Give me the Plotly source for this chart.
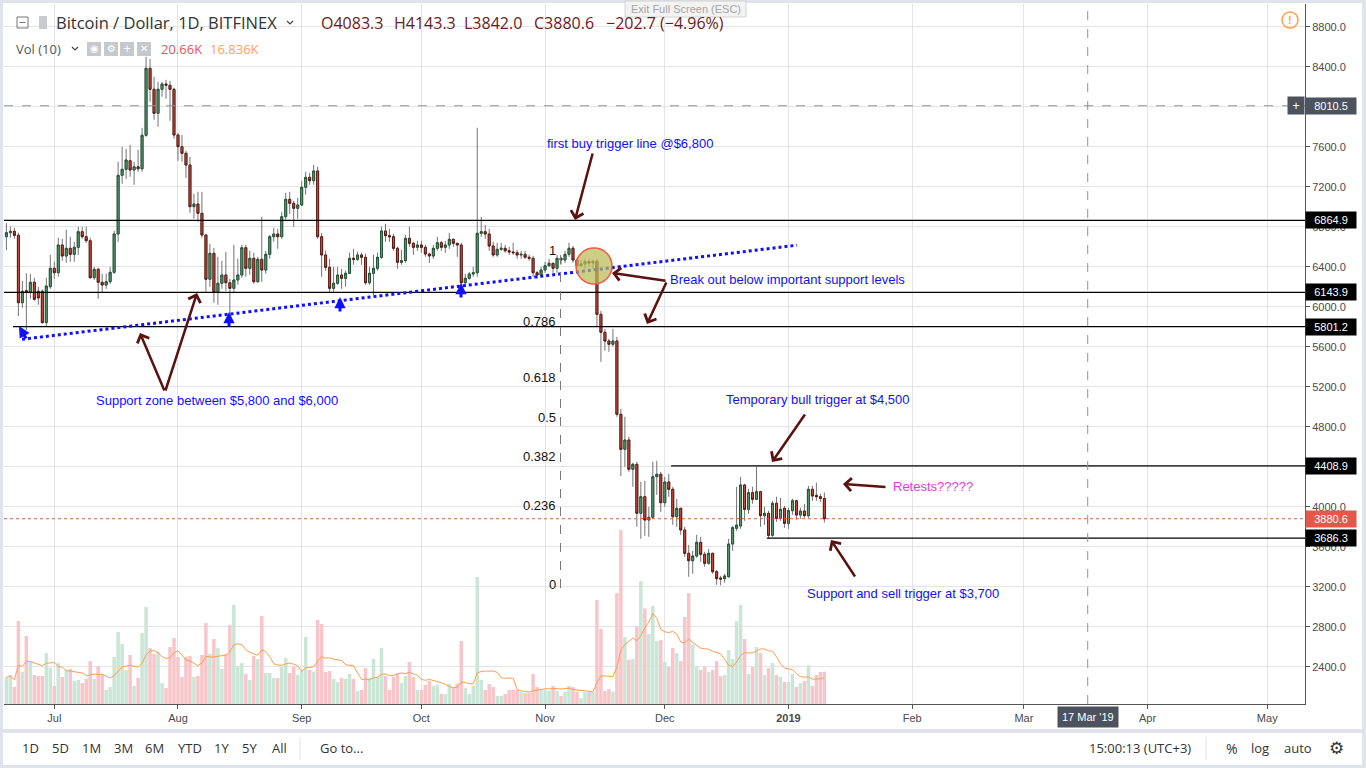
import pandas as pd
import plotly.graph_objects as go

# ---------------- DATA ----------------
start_date = "2018-06-19"
end_date = "2019-01-10"
dates = pd.date_range(start_date, end_date, freq="D")

open_ = [
    6701, 6741, 6755, 6715, 6041, 6161, 6148, 6245, 6155, 6155, 5842, 6201,
    6385, 6341, 6618, 6508, 6585, 6525, 6595, 6751, 6701, 6661, 6291, 6375, 6245, 6218, 6251, 6345,
    6728, 7315, 7375, 7461, 7368, 7400, 7380, 7715, 8385, 8175, 7935, 8175, 8228, 8215, 8175,
    7718, 7601, 7535, 7418, 7001, 7028, 6935, 6718, 6275, 6535, 6145, 6235, 6318, 6241, 6185, 6268,
    6318, 6591, 6385, 6485, 6251, 6475, 6368, 6525, 6701, 6728, 6701, 6901, 7075, 7035, 6985,
    7018, 7195, 7295, 7261, 7358, 6701, 6518, 6395, 6185, 6235, 6318, 6285, 6335, 6485, 6475,
    6518, 6495, 6241, 6335, 6385, 6495, 6758, 6711, 6701, 6585, 6445, 6461, 6685, 6635, 6595,
    6618, 6595, 6528, 6508, 6585, 6641, 6595, 6618, 6675, 6635, 6618, 6241, 6285, 6328, 6341,
    6735, 6751, 6728, 6608, 6518, 6575, 6585, 6561, 6548, 6541, 6518, 6525, 6495, 6485, 6341, 6318,
    6368, 6411, 6435, 6385, 6485, 6468, 6525, 6585, 6468, 6411, 6428, 6451, 6438, 6455, 5925,
    5745, 5658, 5625, 5658, 4925, 4575, 4668, 4375, 4425, 3935, 4101, 3868, 3895, 4301, 4325,
    4041, 4248, 4175, 3901, 3985, 3768, 3535, 3461, 3508, 3645, 3525, 3435, 3535, 3351, 3288,
    3281, 3301, 3628, 3785, 3808, 4218, 3975, 4141, 4075, 4151, 3911, 3935, 3715, 4035, 3885, 3985,
    3835, 3961, 4061, 3918, 3958, 3911, 4175, 4115, 4101, 4083.3,
]
high = [
    6835, 6800, 6790, 6740, 6258, 6335, 6330, 6290, 6200, 6175, 6290, 6520,
    6450, 6690, 6680, 6770, 6700, 6650, 6800, 6800, 6800, 6690, 6400, 6390, 6330, 6330, 6400, 6760,
    7450, 7600, 7580, 7620, 7450, 7570, 7790, 8500, 8480, 8300, 8250, 8250, 8270, 8260, 8190,
    7740, 7720, 7560, 7500, 7130, 7150, 7150, 6730, 6630, 6590, 6500, 6460, 6550, 6280, 6620, 6480,
    6620, 6620, 6560, 6540, 6500, 6900, 6560, 6720, 6790, 6780, 6950, 7140, 7150, 7060, 7090,
    7260, 7350, 7340, 7420, 7400, 6740, 6560, 6480, 6400, 6400, 6380, 6360, 6540, 6580, 6550,
    6540, 6530, 6400, 6520, 6540, 6800, 6830, 6780, 6730, 6600, 6570, 6720, 6800, 6650, 6660,
    6660, 6620, 6540, 6620, 6700, 6660, 6660, 6740, 6680, 6640, 6640, 6330, 6350, 6400, 7790,
    6900, 6820, 6780, 6650, 6640, 6640, 6620, 6600, 6640, 6570, 6560, 6560, 6520, 6510, 6360, 6400,
    6450, 6480, 6440, 6520, 6500, 6560, 6640, 6610, 6480, 6470, 6480, 6480, 6470, 6480, 5960,
    5780, 5680, 5780, 5700, 4980, 4900, 4700, 4440, 4450, 4250, 4260, 4000, 4450, 4460, 4350,
    4300, 4330, 4200, 4080, 3990, 3800, 3620, 3560, 3720, 3700, 3550, 3580, 3540, 3370, 3310,
    3330, 3680, 3810, 4200, 4300, 4230, 4180, 4200, 4400, 4160, 4000, 3960, 4060, 4100, 4090, 4010,
    3990, 4080, 4070, 3990, 4030, 4210, 4210, 4240, 4130, 4143.3,
]
low = [
    6568, 6690, 6680, 5908, 5990, 5768, 6080, 6060, 6020, 5830, 5800, 6180,
    6280, 6300, 6460, 6440, 6450, 6450, 6520, 6680, 6640, 6280, 6270, 6080, 6140, 6180, 6230, 6330,
    6650, 7230, 7280, 7300, 7220, 7350, 7350, 7700, 8050, 7870, 7800, 8100, 8080, 7860, 7680,
    7460, 7450, 7290, 6940, 6880, 6850, 6690, 6150, 6200, 6040, 6020, 6180, 6160, 5818, 6150, 6220,
    6290, 6300, 6320, 6230, 6240, 6250, 6330, 6480, 6650, 6580, 6680, 6870, 6930, 6800, 6880,
    7010, 7120, 7220, 7220, 6680, 6300, 6360, 6150, 6150, 6220, 6180, 6200, 6330, 6420, 6460,
    6420, 6220, 6220, 6118, 6360, 6480, 6650, 6650, 6560, 6380, 6420, 6440, 6600, 6520, 6560,
    6540, 6500, 6440, 6480, 6560, 6560, 6540, 6580, 6600, 6500, 6200, 6200, 6270, 6300, 6300,
    6700, 6680, 6560, 6500, 6500, 6560, 6540, 6520, 6520, 6480, 6480, 6480, 6460, 6300, 6280, 6300,
    6340, 6400, 6340, 6340, 6420, 6440, 6500, 6440, 6380, 6400, 6380, 6400, 6380, 5800, 5450,
    5560, 5550, 5600, 4900, 4308, 4400, 4350, 4200, 3800, 3680, 3710, 3700, 3880, 4120, 3950,
    4000, 4100, 3820, 3800, 3720, 3500, 3300, 3330, 3490, 3450, 3400, 3420, 3330, 3220, 3215,
    3240, 3290, 3560, 3760, 3780, 3860, 3930, 4030, 4070, 3800, 3820, 3680, 3700, 3850, 3860, 3790,
    3780, 3920, 3870, 3880, 3890, 3890, 4060, 4060, 4050, 3842.0,
]
close = [
    6741, 6755, 6715, 6041, 6155, 6148, 6245, 6075, 6088, 5842, 6208, 6385,
    6341, 6618, 6508, 6585, 6525, 6595, 6751, 6701, 6661, 6291, 6375, 6245, 6218, 6251, 6345, 6728,
    7315, 7375, 7468, 7368, 7400, 7380, 7715, 8385, 8175, 7935, 8175, 8228, 8215, 8175, 7718,
    7601, 7535, 7418, 7001, 7028, 6935, 6718, 6275, 6535, 6145, 6235, 6318, 6241, 6185, 6268, 6318,
    6591, 6385, 6485, 6251, 6475, 6368, 6525, 6701, 6728, 6701, 6901, 7075, 7035, 6985, 7018,
    7195, 7295, 7261, 7358, 6701, 6518, 6395, 6185, 6235, 6318, 6285, 6335, 6485, 6475, 6518,
    6495, 6241, 6335, 6385, 6495, 6758, 6711, 6701, 6585, 6445, 6461, 6685, 6635, 6595, 6618,
    6595, 6528, 6508, 6585, 6641, 6595, 6618, 6675, 6635, 6618, 6241, 6285, 6328, 6341, 6735,
    6751, 6728, 6608, 6518, 6575, 6585, 6561, 6548, 6541, 6518, 6525, 6495, 6485, 6341, 6318, 6368,
    6411, 6435, 6385, 6485, 6468, 6525, 6585, 6468, 6411, 6428, 6451, 6438, 6455, 5925, 5745,
    5658, 5625, 5658, 4925, 4575, 4668, 4375, 4425, 3935, 4101, 3868, 3895, 4301, 4325, 4041,
    4248, 4175, 3901, 3985, 3768, 3535, 3461, 3508, 3645, 3525, 3435, 3535, 3351, 3281, 3278,
    3308, 3628, 3791, 3818, 4218, 3975, 4141, 4075, 4151, 3911, 3935, 3715, 4035, 3885, 3975, 3835,
    3961, 4061, 3918, 3958, 3911, 4175, 4108, 4101, 4083.3, 3880.6,
]
volume_k = [
    17.1, 18.6, 10.9, 53.1, 20.5, 43.5, 26.9, 18.6, 17.9, 17.9, 32.6, 23.3,
    11.5, 26.2, 17.3, 21.8, 22.4, 14.9, 15.4, 13.4, 16.0, 27.5, 16.0, 24.3, 19.0, 9.0, 10.9, 30.1,
    46.1, 38.4, 21.8, 31.4, 11.5, 16.6, 45.4, 62.1, 35.8, 32.0, 33.3, 13.4, 10.2, 36.5, 42.2,
    30.1, 17.3, 30.1, 30.7, 17.3, 17.9, 31.4, 51.8, 32.0, 41.6, 35.8, 22.4, 32.0, 50.6, 63.4, 24.3,
    26.2, 19.2, 15.4, 30.7, 28.8, 56.3, 19.8, 19.8, 16.6, 16.6, 23.7, 29.4, 19.8, 23.7, 18.6,
    21.1, 42.9, 21.8, 20.5, 53.8, 51.2, 20.5, 21.1, 16.0, 14.1, 16.6, 16.0, 19.2, 16.0, 8.3,
    9.0, 23.0, 16.6, 28.8, 17.3, 35.8, 17.9, 9.0, 17.3, 19.4, 13.4, 17.9, 26.9, 17.3, 9.0,
    9.0, 12.2, 14.7, 11.5, 12.2, 6.4, 6.4, 12.8, 10.2, 13.2, 40.3, 10.2, 6.4, 11.5, 81.3,
    15.4, 9.0, 12.8, 10.9, 5.1, 5.1, 6.4, 9.0, 9.0, 9.0, 7.7, 7.0, 7.0, 19.2, 10.9, 9.6,
    9.0, 8.5, 11.5, 8.3, 5.1, 7.7, 11.5, 10.9, 7.7, 3.8, 7.7, 7.7, 7.7, 66.6,
    48.0, 8.3, 9.6, 7.9, 71.0, 111.3, 42.7, 28.2, 28.8, 49.5, 78.7, 61.2, 44.8, 62.7, 40.3, 41.0,
    26.9, 23.7, 35.8, 32.6, 27.5, 55.7, 71.0, 37.8, 24.3, 21.8, 23.7, 20.5, 21.8, 27.5, 17.9,
    18.6, 34.6, 28.8, 53.1, 63.4, 41.6, 19.2, 23.7, 36.5, 32.6, 18.6, 23.0, 26.2, 18.6, 17.3, 14.1,
    14.1, 19.2, 10.9, 13.4, 14.7, 24.8, 11.5, 18.6, 20.5, 20.66,
]
vol_ma_period = 10

levels = [6864.9, 6143.9, 5801.2, 4408.9, 3686.3]
level_starts = [None, None, "2018-06-20 15:30", "2018-12-02 14:00", "2018-12-26 14:00"]
crosshair_price = 8010.5
crosshair_date = "2019-03-17"
crosshair_label = "17 Mar '19"
fib_low, fib_high = 3228.0, 6568.0
fib_ratios = [1, 0.786, 0.618, 0.5, 0.382, 0.236, 0]
fib_labels = ["1", "0.786", "0.618", "0.5", "0.382", "0.236", "0"]
trend_dates = ["2018-06-22 22:00", "2019-01-03 03:00"]
trend_prices = [5675, 6616]
month_ticks = pd.date_range("2018-07-01", "2019-05-01", freq="MS")
month_labels = ["Jul", "Aug", "Sep", "Oct", "Nov", "Dec", "<b>2019</b>", "Feb", "Mar", "Apr", "May"]
price_ticks = list(range(2400, 8801, 400))

# ---------------- STYLE / LAYOUT CALIBRATION ----------------
UP, UP_BORDER = "#5a9f76", "#225437"
DOWN, DOWN_BORDER = "#d34e3c", "#5b1a13"
WICK = "#737375"
VOL_UP, VOL_DOWN = "#c9e6d6", "#f8c6ca"
GRID = "#e4e4e4"
AXIS = "#555555"
BLUE = "#1010ff"
BROWN = "#5c1111"
AXF = "Liberation Sans"
UIF = "Open Sans"

PL, PR, PT, PB = 4, 1305, 4, 704
def px(x):
    return (x - PL) / (PR - PL)
def py(y):
    return (PB - y) / (PB - PT)

ref_day = pd.Timestamp("2018-07-01")
ref_px, px_per_day = 54.3, 3.99
x_left = ref_day + pd.Timedelta(days=(PL - ref_px) / px_per_day)
x_right = ref_day + pd.Timedelta(days=(PR - ref_px) / px_per_day)
price_top = 8800 - (PT - 26.8) * 10
price_bot = 8800 - (PB - 26.8) * 10
vol_per_px = 0.64

# ---------------- TRACES ----------------
vol_colors = [VOL_UP if c >= o else VOL_DOWN for o, c in zip(open_, close)]
vol_ma = pd.Series(volume_k).rolling(vol_ma_period, min_periods=1).mean()
body_top = [max(o, c) for o, c in zip(open_, close)]
body_bot = [min(o, c) for o, c in zip(open_, close)]

fig = go.Figure()
fig.add_trace(go.Bar(x=dates, y=volume_k, marker=dict(color=vol_colors, line=dict(width=0)),
                     yaxis="y", hoverinfo="skip"))
fig.add_trace(go.Scatter(x=dates, y=vol_ma, mode="lines", line=dict(color="#ff9d4d", width=1),
                         yaxis="y", hoverinfo="skip"))
fig.add_trace(go.Candlestick(x=dates, open=open_, high=high, low=low, close=close, yaxis="y2",
                             increasing=dict(line=dict(color=WICK, width=1), fillcolor=UP),
                             decreasing=dict(line=dict(color=WICK, width=1), fillcolor=DOWN),
                             whiskerwidth=0, hoverinfo="skip"))
fig.add_trace(go.Candlestick(x=dates, open=open_, high=body_top, low=body_bot, close=close, yaxis="y2",
                             increasing=dict(line=dict(color=UP_BORDER, width=1), fillcolor=UP),
                             decreasing=dict(line=dict(color=DOWN_BORDER, width=1), fillcolor=DOWN),
                             whiskerwidth=0, hoverinfo="skip"))

# ---------------- SHAPES ----------------
shapes = []
def pshape(**kw):
    d = dict(xref="paper", yref="paper")
    d.update(kw)
    shapes.append(d)

for lvl, st in zip(levels, level_starts):
    shapes.append(dict(type="line", xref="x", yref="y2", x0=st if st else x_left, x1=x_right,
                       y0=lvl, y1=lvl, line=dict(color="#000000", width=1.3)))
shapes.append(dict(type="line", xref="paper", yref="y2", x0=0, x1=1, y0=close[-1], y1=close[-1],
                   line=dict(color="#e4584a", width=1, dash="dot")))
shapes.append(dict(type="line", xref="paper", yref="y2", x0=0, x1=1, y0=crosshair_price, y1=crosshair_price,
                   line=dict(color="#8f939b", width=1, dash="dash")))
shapes.append(dict(type="line", xref="x", yref="paper", x0=crosshair_date, x1=crosshair_date, y0=0, y1=1,
                   line=dict(color="#8f939b", width=1, dash="dash")))
shapes.append(dict(type="line", xref="x", yref="y2", x0=trend_dates[0], x1=trend_dates[1],
                   y0=trend_prices[0], y1=trend_prices[1], line=dict(color=BLUE, width=3, dash="dot")))
# fib vertical dashed line
pshape(type="line", x0=px(560.5), x1=px(560.5), y0=py(255), y1=py(590),
       line=dict(color="#7a7a7a", width=1, dash="dash"))
# highlight circle
pshape(type="circle", x0=px(576), x1=px(612), y0=py(284), y1=py(248),
       fillcolor="rgba(186,186,88,0.72)", line=dict(color="#ee5a44", width=1.5))

# page frame
FRAME = "#e0e3eb"
pshape(type="rect", x0=px(0), x1=px(3), y0=py(0), y1=py(768), fillcolor=FRAME, line=dict(width=0))
pshape(type="rect", x0=px(1362), x1=px(1366), y0=py(0), y1=py(768), fillcolor=FRAME, line=dict(width=0))
pshape(type="rect", x0=px(0), x1=px(1366), y0=py(0), y1=py(3), fillcolor=FRAME, line=dict(width=0))
pshape(type="rect", x0=px(0), x1=px(1366), y0=py(729), y1=py(733), fillcolor=FRAME, line=dict(width=0))
pshape(type="rect", x0=px(0), x1=px(1366), y0=py(765), y1=py(768), fillcolor=FRAME, line=dict(width=0))
pshape(type="line", x0=px(300), x1=px(300), y0=py(737), y1=py(760), line=dict(color=FRAME, width=1))
pshape(type="line", x0=px(1206), x1=px(1206), y0=py(737), y1=py(760), line=dict(color=FRAME, width=1))
# header icons
pshape(type="rect", x0=px(17), x1=px(28), y0=py(28), y1=py(17), line=dict(color="#777777", width=1))
pshape(type="line", x0=px(19.5), x1=px(25.5), y0=py(22.5), y1=py(22.5), line=dict(color="#777777", width=1))
pshape(type="rect", x0=px(39), x1=px(47), y0=py(29), y1=py(16), fillcolor="#c8cace", line=dict(width=0))
for cx0, cy0 in [(287, 21), (72, 47)]:
    pshape(type="path", path=f"M {px(cx0)} {py(cy0)} L {px(cx0 + 3)} {py(cy0 + 3)} L {px(cx0 + 6)} {py(cy0)}",
           line=dict(color="#444444", width=1.2))
for bx in [87, 104, 120, 137]:
    pshape(type="rect", x0=px(bx), x1=px(bx + 14), y0=py(56), y1=py(42), fillcolor="#c6c8cc", line=dict(width=0))
# tooltip
pshape(type="rect", x0=px(625), x1=px(746), y0=py(17), y1=py(1), fillcolor="#f3f3f3",
       line=dict(color="#d2d2d2", width=1))
# warning icon
pshape(type="circle", x0=px(1282), x1=px(1298), y0=py(28), y1=py(12), line=dict(color="#ff9f4a", width=1.5))

# ---------------- ANNOTATIONS ----------------
ann = []
def txt(x, y, s, size=13, color="#000000", family=AXF, xanchor="left", yref="paper", **kw):
    ann.append(dict(x=px(x), y=py(y) if yref == "paper" else y, xref="paper", yref=yref, text=s,
                    showarrow=False, xanchor=xanchor, yanchor="middle",
                    font=dict(family=family, size=size, color=color), **kw))

def arrow(hx, hy, tx, ty, color, width, head=4, size=1.0):
    ann.append(dict(x=px(hx), y=py(hy), xref="paper", yref="paper", ax=tx - hx, ay=ty - hy,
                    axref="pixel", ayref="pixel", showarrow=True, arrowhead=head, arrowsize=size,
                    arrowwidth=width, arrowcolor=color, text="", standoff=0, startstandoff=0))

# header
txt(54, 23, "Bitcoin / Dollar, 1D, BITFINEX", size=16.5, color="#333333", family=UIF)
chg = close[-1] - close[-2]
pct = chg / close[-2] * 100
hdr = [(319, f"O{open_[-1]:.1f}"), (392, f"H{high[-1]:.1f}"), (462, f"L{low[-1]:.1f}"),
       (532, f"C{close[-1]:.1f}"), (604, f"\u2212{abs(chg):.1f} (\u2212{abs(pct):.2f}%)")]
for hx, s in hdr:
    txt(hx, 23, s, size=16, color="#6a1b1b", family=UIF)
txt(14, 49, "Vol (10)", size=13, color="#555555", family=UIF)
for bx, g in zip([87, 104, 120, 137], ["\u25c9", "\u2699", "+", "\u2715"]):
    txt(bx + 7, 49, g, size=10, color="#ffffff", family="DejaVu Sans", xanchor="center")
txt(159, 49, f"{volume_k[-1]:.2f}K", size=13, color="#ef4f5f", family=UIF)
txt(208, 49, f"{vol_ma.iloc[-1]:.3f}K", size=13, color="#ff9f5a", family=UIF)
txt(685.5, 8.5, "Exit Full Screen (ESC)", size=11, color="#a5a5a5", family=AXF, xanchor="center")
txt(1290, 20, "<b>!</b>", size=11, color="#ff9f4a", family=AXF, xanchor="center")

# drawings text
txt(545, 143, "first buy trigger line @$6,800", color=BLUE)
txt(668, 280, "Break out below important support levels", color=BLUE)
txt(94, 400, "Support zone between $5,800 and $6,000", color=BLUE)
txt(724, 399, "Temporary bull trigger at $4,500", color=BLUE)
txt(891, 487, "Retests?????", color="#e23be2")
txt(805, 593, "Support and sell trigger at $3,700", color=BLUE)
for r, lab in zip(fib_ratios, fib_labels):
    txt(558, fib_low + r * (fib_high - fib_low), lab, size=13, color="#111111", xanchor="right", yref="y2")

# brown arrows
arrow(575, 220, 593, 152, BROWN, 2.5)
arrow(612, 273, 667, 281, BROWN, 2.5)
arrow(647, 324, 667, 281, BROWN, 2.5)
arrow(140, 333, 165, 392, BROWN, 2.5)
arrow(197, 293, 165, 392, BROWN, 2.5)
arrow(772, 462, 806, 413, BROWN, 2.5)
arrow(843, 484, 887, 487, BROWN, 2.5)
arrow(831, 540, 856, 578, BROWN, 2.5)
# blue up arrows
arrow(19, 326, 27, 340, BLUE, 3, head=2, size=0.75)
arrow(229, 312, 229, 328, BLUE, 3, head=2, size=0.75)
arrow(340, 297, 340, 313, BLUE, 3, head=2, size=0.75)
arrow(461, 283, 461, 299, BLUE, 3, head=2, size=0.75)

# price labels on the right axis
def plabel(price, bg, text=None):
    ann.append(dict(x=1.0, y=price, xref="paper", yref="y2", text=text or f"{price:.1f}", showarrow=False,
                    xanchor="left", yanchor="middle", bgcolor=bg, borderpad=2, width=46,
                    font=dict(family=AXF, size=11, color="#ffffff")))
for lvl in levels:
    plabel(lvl, "#000000")
plabel(close[-1], "#e4584a")
plabel(crosshair_price, "#4c525e")
ann.append(dict(x=px(1296), y=crosshair_price, xref="paper", yref="y2", text="+", showarrow=False,
                xanchor="center", yanchor="middle", bgcolor="#4c525e", borderpad=1, width=14,
                font=dict(family=AXF, size=13, color="#ffffff")))
ann.append(dict(x=crosshair_date, y=py(717), xref="x", yref="paper", text=crosshair_label, showarrow=False,
                xanchor="center", yanchor="middle", bgcolor="#4c525e", borderpad=4,
                font=dict(family=AXF, size=11, color="#ffffff")))

# bottom toolbar
for bx, s in [(20, "1D"), (50, "5D"), (80, "1M"), (112, "3M"), (143, "6M"), (176, "YTD"),
              (212, "1Y"), (240, "5Y"), (270, "All"), (318, "Go to...")]:
    txt(bx, 748, s, size=13, color="#333333", family=UIF)
txt(1193, 748, "15:00:13 (UTC+3)", size=13, color="#333333", family=UIF, xanchor="right")
txt(1224, 748, "%", size=14, color="#333333", family=UIF)
txt(1249, 748, "log", size=13, color="#333333", family=UIF)
txt(1282, 748, "auto", size=13, color="#333333", family=UIF)
txt(1336, 748, "\u2699", size=17, color="#333333", family="DejaVu Sans", xanchor="center")

# ---------------- LAYOUT ----------------
fig.update_layout(
    width=1366, height=768,
    margin=dict(l=PL, r=1366 - PR, t=PT, b=768 - PB),
    paper_bgcolor="#ffffff", plot_bgcolor="#ffffff",
    showlegend=False, hovermode=False, bargap=0.12,
    shapes=shapes, annotations=ann,
    xaxis=dict(type="date", range=[x_left, x_right], tickvals=month_ticks, ticktext=month_labels,
               showgrid=True, gridcolor=GRID, gridwidth=1, ticks="outside", ticklen=4, tickcolor=AXIS,
               showline=True, linecolor=AXIS, linewidth=1, rangeslider=dict(visible=False),
               tickfont=dict(family=AXF, size=11, color="#4a4a4a"), zeroline=False, fixedrange=True),
    yaxis=dict(range=[0, (PB - PT) * vol_per_px], visible=False, fixedrange=True),
    yaxis2=dict(overlaying="y", side="right", anchor="x", range=[price_bot, price_top],
                tickvals=price_ticks, ticktext=[f"{v:.1f}" for v in price_ticks],
                showgrid=True, gridcolor=GRID, gridwidth=1, ticks="outside", ticklen=4, tickcolor=AXIS,
                showline=True, linecolor=AXIS, linewidth=1, zeroline=False,
                tickfont=dict(family=AXF, size=11, color="#4a4a4a"), fixedrange=True),
)

fig.write_html("out.html", config={"displayModeBar": False},
               post_script="document.body.style.margin='0';document.body.style.overflow='hidden';")
